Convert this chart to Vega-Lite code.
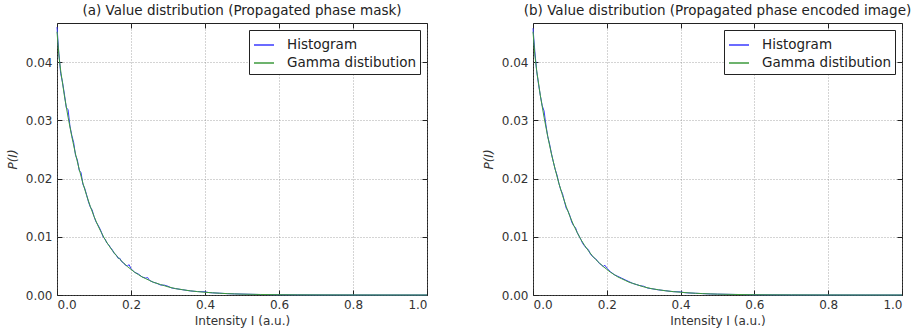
{
  "$schema": "https://vega.github.io/schema/vega-lite/v6.json",
  "padding": {"left": 5, "right": 0, "top": 3, "bottom": 4},
  "spacing": 51,
  "config": {
    "font": "DejaVu Sans",
    "view": {"stroke": "#222", "strokeWidth": 1},
    "title": {"fontSize": 13.5, "fontWeight": "normal", "color": "#222", "offset": 5, "font": "DejaVu Sans"},
    "axis": {
      "domain": false,
      "tickColor": "#222",
      "tickSize": -5,
      "labelFontSize": 12,
      "labelColor": "#333",
      "labelFont": "DejaVu Sans",
      "titleFontSize": 12,
      "titleFontWeight": "normal",
      "titleColor": "#333",
      "titleFont": "DejaVu Sans",
      "gridColor": "#777",
      "gridDash": [1, 2],
      "gridWidth": 0.8,
      "gridOpacity": 0.8
    },
    "legend": {
      "orient": "top-right",
      "offset": 7,
      "strokeColor": "#222",
      "fillColor": "white",
      "padding": 4,
      "cornerRadius": 0,
      "symbolType": "stroke",
      "symbolSize": 400,
      "symbolStrokeWidth": 1.5,
      "labelFontSize": 13.5,
      "labelColor": "#222",
      "labelFont": "DejaVu Sans",
      "labelOffset": 12,
      "rowPadding": 0
    }
  },
  "datasets": {
    "a_hist": [
      {"I":0.000,"P":0.0460},{"I":0.005,"P":0.0415},{"I":0.010,"P":0.0380},{"I":0.015,"P":0.0365},{"I":0.020,"P":0.0345},
      {"I":0.025,"P":0.0322},{"I":0.030,"P":0.0318},{"I":0.035,"P":0.0290},{"I":0.040,"P":0.0274},{"I":0.045,"P":0.0262},
      {"I":0.050,"P":0.0240},{"I":0.055,"P":0.0232},{"I":0.060,"P":0.0214},{"I":0.065,"P":0.0210},{"I":0.070,"P":0.0190},
      {"I":0.075,"P":0.0183},{"I":0.080,"P":0.0172},{"I":0.085,"P":0.0160},{"I":0.090,"P":0.0151},{"I":0.095,"P":0.0146},
      {"I":0.100,"P":0.0135},{"I":0.105,"P":0.0126},{"I":0.110,"P":0.0121},{"I":0.115,"P":0.0115},{"I":0.120,"P":0.0108},
      {"I":0.125,"P":0.0099},{"I":0.130,"P":0.0096},{"I":0.135,"P":0.0089},{"I":0.140,"P":0.0086},{"I":0.145,"P":0.0081},
      {"I":0.150,"P":0.0077},{"I":0.155,"P":0.0071},{"I":0.160,"P":0.0069},{"I":0.165,"P":0.0063},{"I":0.170,"P":0.0063},
      {"I":0.175,"P":0.0057},{"I":0.180,"P":0.0055},{"I":0.185,"P":0.0051},{"I":0.190,"P":0.0050},{"I":0.195,"P":0.0052},
      {"I":0.200,"P":0.0045},{"I":0.210,"P":0.0039},{"I":0.220,"P":0.0036},{"I":0.230,"P":0.0031},{"I":0.240,"P":0.0029},
      {"I":0.245,"P":0.0030},{"I":0.250,"P":0.0025},{"I":0.260,"P":0.0022},{"I":0.270,"P":0.0020},{"I":0.280,"P":0.0017},
      {"I":0.290,"P":0.0017},{"I":0.300,"P":0.0015},{"I":0.310,"P":0.0012},{"I":0.320,"P":0.0011},{"I":0.340,"P":0.0009},
      {"I":0.360,"P":0.00070},{"I":0.380,"P":0.00059},{"I":0.400,"P":0.00055},{"I":0.410,"P":0.00042},{"I":0.420,"P":0.00037},
      {"I":0.440,"P":0.00031},{"I":0.460,"P":0.00023},{"I":0.480,"P":0.00019},{"I":0.500,"P":0.00016},{"I":0.550,"P":0.00008},
      {"I":0.600,"P":0.00005},{"I":0.700,"P":0.00002},{"I":0.800,"P":0.00001},{"I":0.900,"P":0.000004},{"I":1.000,"P":0.000001}
    ],
    "b_hist": [
      {"I":0.000,"P":0.0458},{"I":0.005,"P":0.0418},{"I":0.010,"P":0.0384},{"I":0.015,"P":0.0362},{"I":0.020,"P":0.0342},
      {"I":0.025,"P":0.0325},{"I":0.030,"P":0.0316},{"I":0.035,"P":0.0292},{"I":0.040,"P":0.0272},{"I":0.045,"P":0.0259},
      {"I":0.050,"P":0.0243},{"I":0.055,"P":0.0229},{"I":0.060,"P":0.0216},{"I":0.065,"P":0.0206},{"I":0.070,"P":0.0192},
      {"I":0.075,"P":0.0181},{"I":0.080,"P":0.0174},{"I":0.085,"P":0.0161},{"I":0.090,"P":0.0149},{"I":0.095,"P":0.0144},
      {"I":0.100,"P":0.0136},{"I":0.105,"P":0.0125},{"I":0.110,"P":0.0119},{"I":0.115,"P":0.0116},{"I":0.120,"P":0.0107},
      {"I":0.125,"P":0.0101},{"I":0.130,"P":0.0095},{"I":0.135,"P":0.0088},{"I":0.140,"P":0.0084},{"I":0.145,"P":0.0080},
      {"I":0.150,"P":0.0078},{"I":0.155,"P":0.0071},{"I":0.160,"P":0.0067},{"I":0.165,"P":0.0064},{"I":0.170,"P":0.0062},
      {"I":0.175,"P":0.0058},{"I":0.180,"P":0.0054},{"I":0.185,"P":0.0052},{"I":0.190,"P":0.0049},{"I":0.195,"P":0.0051},
      {"I":0.200,"P":0.0046},{"I":0.210,"P":0.0040},{"I":0.220,"P":0.0035},{"I":0.230,"P":0.0032},{"I":0.240,"P":0.0029},
      {"I":0.250,"P":0.0026},{"I":0.260,"P":0.0023},{"I":0.270,"P":0.0020},{"I":0.280,"P":0.0018},{"I":0.290,"P":0.0016},
      {"I":0.300,"P":0.0015},{"I":0.310,"P":0.0012},{"I":0.320,"P":0.0011},{"I":0.340,"P":0.00088},{"I":0.360,"P":0.00073},
      {"I":0.380,"P":0.00057},{"I":0.400,"P":0.00054},{"I":0.410,"P":0.00041},{"I":0.420,"P":0.00036},{"I":0.440,"P":0.00030},
      {"I":0.460,"P":0.00024},{"I":0.480,"P":0.00018},{"I":0.500,"P":0.00015},{"I":0.550,"P":0.00009},{"I":0.600,"P":0.00005},
      {"I":0.700,"P":0.00002},{"I":0.800,"P":0.00001},{"I":0.900,"P":0.000004},{"I":1.000,"P":0.000001}
    ],
    "gamma": [
      {"I":0.000,"P":0.0452},{"I":0.005,"P":0.0412},{"I":0.010,"P":0.0385},{"I":0.020,"P":0.0342},{"I":0.030,"P":0.0305},
      {"I":0.040,"P":0.0272},{"I":0.050,"P":0.0242},{"I":0.060,"P":0.0216},{"I":0.070,"P":0.0192},{"I":0.080,"P":0.0171},
      {"I":0.090,"P":0.0152},{"I":0.100,"P":0.0135},{"I":0.110,"P":0.0120},{"I":0.120,"P":0.0107},{"I":0.130,"P":0.0095},
      {"I":0.140,"P":0.0085},{"I":0.150,"P":0.0076},{"I":0.160,"P":0.0068},{"I":0.170,"P":0.0061},{"I":0.180,"P":0.0055},
      {"I":0.190,"P":0.0049},{"I":0.200,"P":0.0044},{"I":0.210,"P":0.0039},{"I":0.220,"P":0.0035},{"I":0.230,"P":0.0031},
      {"I":0.240,"P":0.0028},{"I":0.250,"P":0.0025},{"I":0.260,"P":0.0022},{"I":0.270,"P":0.0020},{"I":0.280,"P":0.0018},
      {"I":0.290,"P":0.0016},{"I":0.300,"P":0.0014},{"I":0.320,"P":0.0011},{"I":0.340,"P":0.0009},{"I":0.360,"P":0.00072},
      {"I":0.380,"P":0.00058},{"I":0.400,"P":0.00047},{"I":0.420,"P":0.00038},{"I":0.440,"P":0.00030},{"I":0.460,"P":0.00024},
      {"I":0.480,"P":0.00019},{"I":0.500,"P":0.00015},{"I":0.550,"P":0.00009},{"I":0.600,"P":0.00005},{"I":0.650,"P":0.00003},
      {"I":0.700,"P":0.00002},{"I":0.800,"P":0.00001},{"I":0.900,"P":0.000003},{"I":1.000,"P":0.000001}
    ]
  },
  "hconcat": [
    {
      "width": 370,
      "height": 272,
      "title": "(a) Value distribution (Propagated phase mask)",
      "layer": [
        {
          "data": {"name": "a_hist"},
          "mark": {"type": "line", "strokeWidth": 1},
          "encoding": {
            "x": {"field": "I", "type": "quantitative", "scale": {"domain": [0, 1], "nice": false},
                  "axis": {"orient": "bottom", "title": "Intensity I (a.u.)", "values": [0, 0.2, 0.4, 0.6, 0.8, 1], "format": ".1f", "labelPadding": 9, "titlePadding": 5, "grid": true}},
            "y": {"field": "P", "type": "quantitative", "scale": {"domain": [0, 0.0467], "nice": false},
                  "axis": {"orient": "left", "title": "P(I)", "titleFontStyle": "italic", "values": [0, 0.01, 0.02, 0.03, 0.04], "format": ".2f", "labelPadding": 10, "titlePadding": 6, "grid": true}},
            "color": {"datum": "Histogram", "type": "nominal", "scale": {"domain": ["Histogram", "Gamma distibution"], "range": ["#3a3aff", "#3d9a3d"]}, "legend": {"title": null}}
          }
        },
        {
          "data": {"name": "gamma"},
          "mark": {"type": "line", "strokeWidth": 1},
          "encoding": {
            "x": {"field": "I", "type": "quantitative", "scale": {"domain": [0, 1], "nice": false},
                  "axis": {"orient": "top", "title": null, "labels": false, "grid": false, "values": [0, 0.2, 0.4, 0.6, 0.8, 1]}},
            "y": {"field": "P", "type": "quantitative", "scale": {"domain": [0, 0.0467], "nice": false},
                  "axis": {"orient": "right", "title": null, "labels": false, "grid": false, "values": [0, 0.01, 0.02, 0.03, 0.04]}},
            "color": {"datum": "Gamma distibution", "type": "nominal"}
          }
        }
      ],
      "resolve": {"axis": {"x": "independent", "y": "independent"}}
    },
    {
      "width": 369,
      "height": 272,
      "title": "(b) Value distribution (Propagated phase encoded image)",
      "layer": [
        {
          "data": {"name": "b_hist"},
          "mark": {"type": "line", "strokeWidth": 1},
          "encoding": {
            "x": {"field": "I", "type": "quantitative", "scale": {"domain": [0, 1], "nice": false},
                  "axis": {"orient": "bottom", "title": "Intensity I (a.u.)", "values": [0, 0.2, 0.4, 0.6, 0.8, 1], "format": ".1f", "labelPadding": 9, "titlePadding": 5, "grid": true}},
            "y": {"field": "P", "type": "quantitative", "scale": {"domain": [0, 0.0467], "nice": false},
                  "axis": {"orient": "left", "title": "P(I)", "titleFontStyle": "italic", "values": [0, 0.01, 0.02, 0.03, 0.04], "format": ".2f", "labelPadding": 10, "titlePadding": 6, "grid": true}},
            "color": {"datum": "Histogram", "type": "nominal", "scale": {"domain": ["Histogram", "Gamma distibution"], "range": ["#3a3aff", "#3d9a3d"]}, "legend": {"title": null}}
          }
        },
        {
          "data": {"name": "gamma"},
          "mark": {"type": "line", "strokeWidth": 1},
          "encoding": {
            "x": {"field": "I", "type": "quantitative", "scale": {"domain": [0, 1], "nice": false},
                  "axis": {"orient": "top", "title": null, "labels": false, "grid": false, "values": [0, 0.2, 0.4, 0.6, 0.8, 1]}},
            "y": {"field": "P", "type": "quantitative", "scale": {"domain": [0, 0.0467], "nice": false},
                  "axis": {"orient": "right", "title": null, "labels": false, "grid": false, "values": [0, 0.01, 0.02, 0.03, 0.04]}},
            "color": {"datum": "Gamma distibution", "type": "nominal"}
          }
        }
      ],
      "resolve": {"axis": {"x": "independent", "y": "independent"}}
    }
  ],
  "resolve": {"scale": {"color": "independent"}}
}
